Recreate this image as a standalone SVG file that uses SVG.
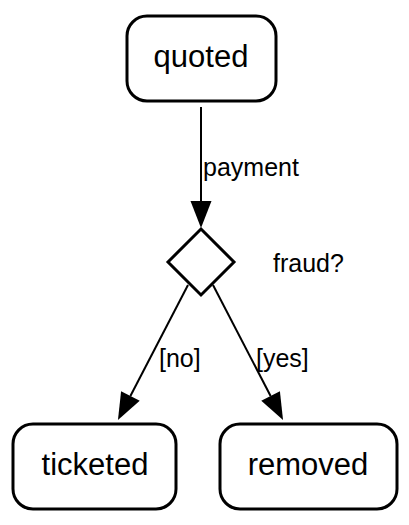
<svg xmlns="http://www.w3.org/2000/svg" width="409" height="525" viewBox="0 0 409 525">
<style>
.node{fill:#fff;stroke:#000;stroke-width:3}
.nt{font-family:"Liberation Sans",Arial,sans-serif;font-size:31px;text-anchor:middle;fill:#000}
.et{font-family:"Liberation Sans",Arial,sans-serif;font-size:25px;fill:#000}
.edge{fill:none;stroke:#000;stroke-width:2}
</style>
<defs>
<marker id="arr" markerUnits="userSpaceOnUse" markerWidth="28" markerHeight="22" refX="0" refY="10.5" orient="auto" overflow="visible">
<path d="M0,0 L27,10.5 L0,21 z" fill="#000"/>
</marker>
</defs>
<rect width="409" height="525" fill="#fff"/>
<g id="connectors">
<line class="edge" x1="201" y1="107" x2="201" y2="201" marker-end="url(#arr)"/>
<line class="edge" x1="188" y1="285" x2="130.4" y2="396" marker-end="url(#arr)"/>
<line class="edge" x1="213" y1="285" x2="270.6" y2="396" marker-end="url(#arr)"/>
<text class="et" x="203" y="176">payment</text>
<text class="et" x="159" y="367">[no]</text>
<text class="et" x="256" y="367">[yes]</text>
</g>
<g id="quoted">
<rect class="node" x="127" y="16" width="149" height="85" rx="20"/>
<text class="nt" x="201" y="67">quoted</text>
</g>
<g id="fraud">
<polygon class="node" points="201,229 234,262 201,295 168,262"/>
<text class="et" x="273" y="272">fraud?</text>
</g>
<g id="ticketed">
<rect class="node" x="13" y="424" width="163" height="85" rx="20"/>
<text class="nt" x="95" y="475">ticketed</text>
</g>
<g id="removed">
<rect class="node" x="220" y="424" width="177" height="85" rx="20"/>
<text class="nt" x="308" y="475">removed</text>
</g>
</svg>
